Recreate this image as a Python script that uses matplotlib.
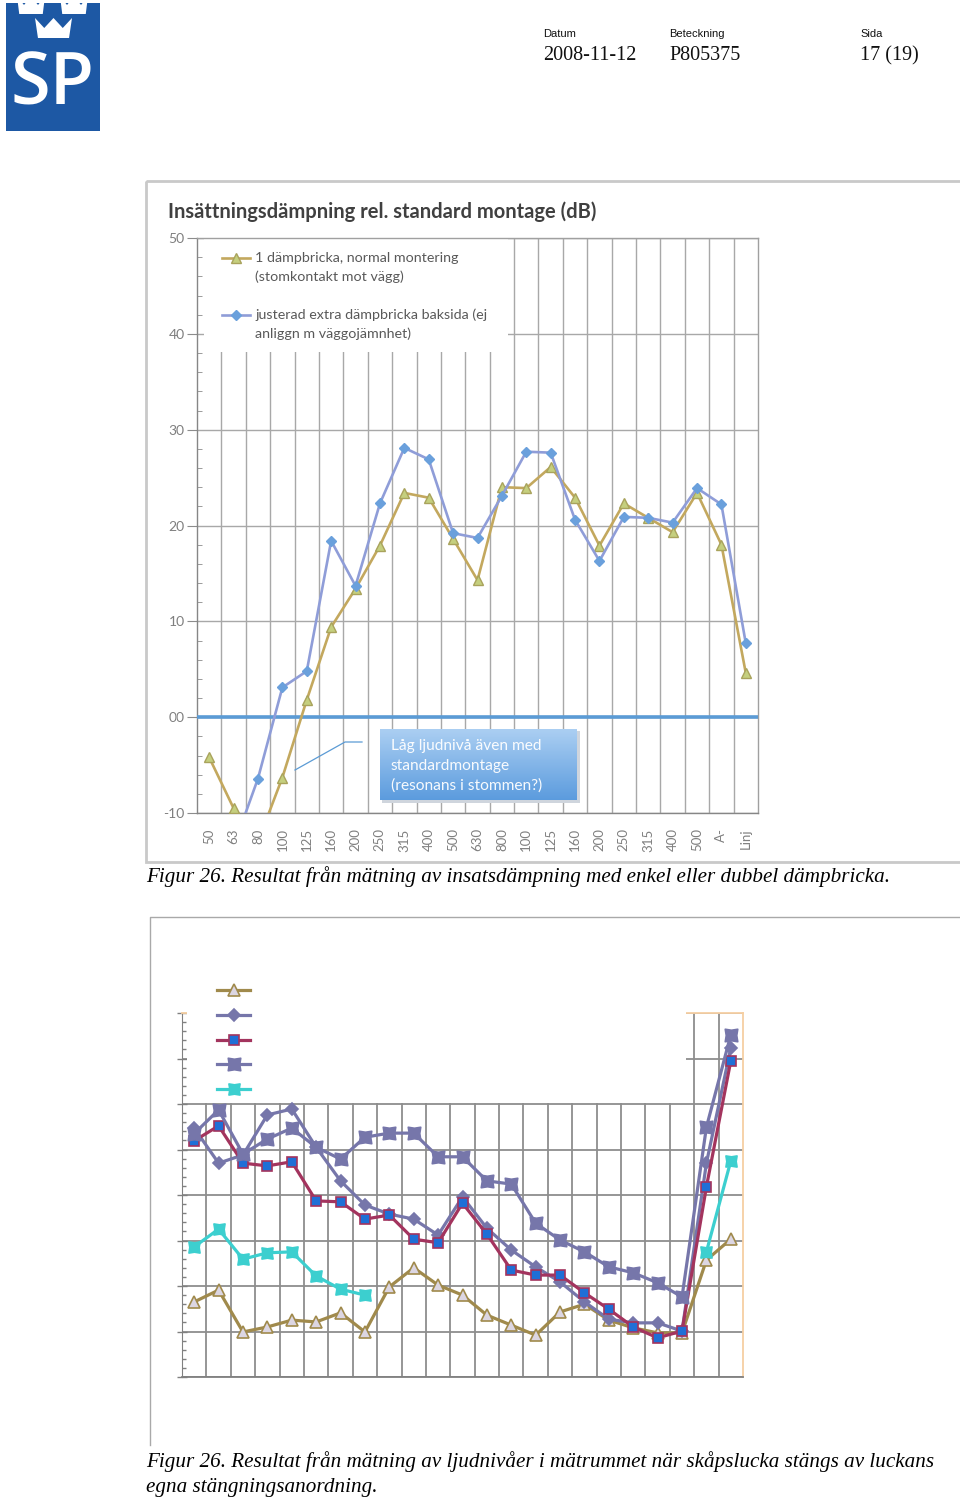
import numpy as np
import matplotlib
matplotlib.use("Agg")
import matplotlib.pyplot as plt
from matplotlib.lines import Line2D
from matplotlib.patches import Rectangle, Polygon
from matplotlib.path import Path
from matplotlib.ticker import MultipleLocator

W, H = 960, 1499

# --- figur 26 (övre): insättningsdämpning, dB ---
band_labels = ["50", "63", "80", "100", "125", "160", "200", "250", "315", "400", "500",
               "630", "800", "100", "125", "160", "200", "250", "315", "400", "500", "A-", "Linj"]
y_ticks = [-10, 0, 10, 20, 30, 40, 50]
y_ticklabels = ["-10", "00", "10", "20", "30", "40", "50"]
one_washer = [-4.2, -9.5, -13.0, -6.3, 1.8, 9.4, 13.4, 17.9, 23.4, 22.9, 18.6, 14.3,
              24.0, 23.9, 26.1, 22.9, 17.9, 22.3, 20.8, 19.3, 23.4, 18.0, 4.6]
extra_washer = [-15.0, -13.5, -6.4, 3.1, 4.8, 18.4, 13.7, 22.3, 28.1, 26.9, 19.2, 18.7,
                23.1, 27.7, 27.6, 20.6, 16.3, 20.9, 20.8, 20.3, 23.9, 22.2, 7.7]
legend1 = [["1 dämpbricka, normal montering", "(stomkontakt mot vägg)"],
           ["justerad extra dämpbricka baksida (ej", "anliggn m väggojämnhet)"]]
callout_lines = ["Låg ljudnivå även med", "standardmontage", "(resonans i stommen?)"]

# --- figur 26 (nedre): ljudnivåer, skala utan siffror ---
s_triangle = [16.5, 19.1, 9.9, 11.0, 12.5, 12.1, 14.1, 9.9, 19.8, 24.0, 20.2, 18.0,
              13.6, 11.4, 9.2, 14.3, 16.0, 12.5, 10.8, 9.7, 9.7, 25.7, 30.3]
s_diamond = [54.7, 47.0, 48.8, 57.6, 58.9, 50.5, 43.1, 37.8, 35.8, 34.7, 31.2, 39.6,
             32.7, 27.9, 24.2, 20.9, 16.5, 12.7, 11.9, 11.9, 10.1, 47.0, 72.3]
s_square = [51.9, 55.2, 47.0, 46.4, 47.3, 38.7, 38.5, 34.7, 35.6, 30.3, 29.5, 38.2,
            31.4, 23.5, 22.4, 22.4, 18.5, 14.9, 11.0, 8.6, 10.1, 41.8, 69.5]
s_star = [53.5, 58.7, 49.0, 52.3, 54.7, 50.5, 47.9, 52.7, 53.6, 53.6, 48.4, 48.4,
          43.1, 42.4, 33.8, 30.1, 27.5, 24.2, 22.9, 20.7, 17.6, 54.9, 75.2]
s_cyan = [28.6, 32.5, 25.9, 27.3, 27.5, 22.2, 19.3, 18.0] + [np.nan] * 13 + [27.5, 47.5]

header_items = [("Datum", "2008-11-12", 543), ("Beteckning", "P805375", 669), ("Sida", "17 (19)", 860)]
caption1 = "Figur 26. Resultat från mätning av insatsdämpning med enkel eller dubbel dämpbricka."
caption2 = ["Figur 26. Resultat från mätning av ljudnivåer i mätrummet när skåpslucka stängs av luckans",
            "egna stängningsanordning."]

CHART_FONT = ["Lato", "DejaVu Sans"]


def fx(x):
    return x / W


def fy(y):
    return 1 - y / H


fig = plt.figure(figsize=(9.6, 14.99), dpi=100)

# ---------------- sidan: logga, sidhuvud, ramar, bildtexter ----------------
page = fig.add_axes([0, 0, 1, 1], zorder=-1)
page.set_xlim(0, W)
page.set_ylim(H, 0)
page.axis("off")

logo = Rectangle((6, 3), 94, 128, fc="#1d58a4", ec="none")
page.add_patch(logo)


def crown(cx, top, w, h):
    pts = [(cx - w / 2, top), (cx - w / 4, top + 0.5 * h), (cx, top),
           (cx + w / 4, top + 0.5 * h), (cx + w / 2, top),
           (cx + w * 0.42, top + h), (cx - w * 0.42, top + h)]
    p = Polygon(pts, closed=True, fc="white", ec="none")
    page.add_patch(p)
    p.set_clip_path(logo)


crown(31, -4, 28, 18)
crown(74, -4, 28, 18)
crown(53.5, 18, 37, 20)
page.text(53, 104, "SP", color="white", fontsize=52, fontweight="semibold",
          family=["Open Sans", "DejaVu Sans"], ha="center", va="baseline")

for small, big, x in header_items:
    page.text(x, 37, small, fontsize=8, family="Liberation Sans", va="baseline", color="#111111")
    page.text(x, 60, big, fontsize=14.5, family="Liberation Serif", va="baseline", color="#111111")

page.add_patch(Rectangle((146, 181), 830, 681, fc="none", ec="#c9c9c9", lw=2))
page.plot([150, 150, 970], [1445, 917, 917], color="#a9a9a9", lw=1)

cap_kw = dict(fontsize=15.2, family="Liberation Serif", style="italic", va="baseline")
page.text(146, 882, caption1, **cap_kw)
page.text(146, 1467, caption2[0], **cap_kw)
page.text(146, 1492, caption2[1], **cap_kw)

page.text(168, 218, "Insättningsdämpning rel. standard montage (dB)", fontsize=14.5,
          fontweight="bold", color="#404040", family=CHART_FONT, va="baseline")

# ---------------- övre diagrammet ----------------
x = np.arange(len(band_labels))
ax1 = fig.add_axes([fx(197), fy(813), fx(561), 575 / H])
ax1.set_xlim(-0.5, len(band_labels) - 0.5)
ax1.set_ylim(-10, 50)
ax1.set_axisbelow(True)

ax1.plot(x, one_washer, color="#c3a85e", lw=1.9, marker="^", ms=6.5,
         mfc="#c5cf7e", mec="#a9a35c", zorder=3)
ax1.plot(x, extra_washer, color="#8f9dd8", lw=1.9, marker="D", ms=4.8,
         mfc="#6aa0dc", mec="#6aa0dc", zorder=4)
ax1.axhline(0, color="#5b9bd5", lw=2.6, zorder=2.8)

ax1.set_xticks(x)
ax1.set_xticklabels(band_labels, rotation=90, color="#7f7f7f", fontsize=9.5, family=CHART_FONT)
ax1.set_xticks(np.arange(0.5, len(band_labels) - 1, 1), minor=True)
ax1.set_yticks(y_ticks)
ax1.set_yticklabels(y_ticklabels, color="#7f7f7f", fontsize=10, family=CHART_FONT)
ax1.yaxis.set_minor_locator(MultipleLocator(2))
ax1.tick_params(axis="x", which="both", length=0, pad=11)
ax1.tick_params(axis="y", which="major", direction="out", length=7, color="#8c8c8c", pad=2)
ax1.tick_params(axis="y", which="minor", direction="in", length=3.5, color="#8c8c8c")
ax1.grid(axis="x", which="minor", color="#a8a8a8", lw=1)
ax1.grid(axis="y", which="major", color="#a8a8a8", lw=1)
for s in ax1.spines.values():
    s.set_color("#a0a0a0")
    s.set_linewidth(1)
ax1.spines["left"].set_color("#868686")
ax1.spines["bottom"].set_color("#868686")

ax1.add_patch(Rectangle((0.012, 0.802), 0.542, 0.197, transform=ax1.transAxes,
                        fc="white", ec="none", zorder=1))

# legend (manuellt placerad som i originalet)
leg_styles = [dict(color="#c3a85e", marker="^", ms=6.5, mfc="#c5cf7e", mec="#a9a35c"),
              dict(color="#8f9dd8", marker="D", ms=4.8, mfc="#6aa0dc", mec="#6aa0dc")]
for (l1, l2), st, yy in zip(legend1, leg_styles, [258, 315]):
    ya = (813 - yy) / 575
    ax1.add_line(Line2D([(222 - 197) / 561, (250 - 197) / 561], [ya, ya], lw=1.9,
                        color=st["color"], transform=ax1.transAxes, zorder=3))
    ax1.add_line(Line2D([(236 - 197) / 561], [ya], ls="none", marker=st["marker"], ms=st["ms"],
                        mfc=st["mfc"], mec=st["mec"], transform=ax1.transAxes, zorder=3))
    ax1.text((255 - 197) / 561, ya, l1, transform=ax1.transAxes, fontsize=10.3,
             color="#595959", family=CHART_FONT, va="center", zorder=3)
    ax1.text((255 - 197) / 561, (813 - yy - 19) / 575, l2, transform=ax1.transAxes, fontsize=10.3,
             color="#595959", family=CHART_FONT, va="center", zorder=3)

# pratbubbla
fig.add_artist(Line2D([fx(295), fx(345), fx(362)], [fy(770), fy(742), fy(742)],
                      color="#5b9bd5", lw=0.9, transform=fig.transFigure))
shadow = fig.add_axes([fx(382), fy(803), fx(198), 72 / H], zorder=4)
shadow.set_facecolor("#d4d8de")
shadow.axis("off")
shadow.add_patch(Rectangle((0, 0), 1, 1, transform=shadow.transAxes, fc="#cfd5dd", ec="none"))
cax = fig.add_axes([fx(380), fy(800), fx(197), 71 / H], zorder=5)
grad = np.linspace(0, 1, 64)[:, None]
top_c = np.array([0.67, 0.81, 0.95])
bot_c = np.array([0.36, 0.61, 0.87])
img = top_c[None, None, :] * (1 - grad[:, :, None]) + bot_c[None, None, :] * grad[:, :, None]
cax.imshow(img, aspect="auto", extent=[0, 1, 0, 1])
cax.set_xlim(0, 1)
cax.set_ylim(0, 1)
cax.axis("off")
for i, line in enumerate(callout_lines):
    cax.text(11 / 197, (800 - 746 - 20 * i) / 71, line, color="white", fontsize=11.2,
             family=CHART_FONT, va="center", ha="left", alpha=0.95)

# ---------------- nedre diagrammet ----------------
ax2 = fig.add_axes([fx(182), fy(1377), fx(561), 364 / H])
ax2.set_xlim(-0.5, len(band_labels) - 0.5)
ax2.set_ylim(0, 80)
ax2.set_axisbelow(True)

star = Path([(-1, -1), (0, -0.84), (1, -1), (0.84, 0), (1, 1), (0, 0.84), (-1, 1), (-0.84, 0), (-1, -1)],
            closed=True)
series2 = [
    (s_triangle, dict(color="#a08a4c", marker="^", ms=9, mfc="#dcd6e2", mec="#a08a4c")),
    (s_diamond, dict(color="#7676aa", marker="D", ms=6.5, mfc="#7676aa", mec="#7676aa")),
    (s_square, dict(color="#a3345e", marker="s", ms=7.5, mfc="#1f6fd6", mec="#a3345e")),
    (s_star, dict(color="#7676aa", marker=star, ms=9, mfc="#7676aa", mec="#7676aa")),
    (s_cyan, dict(color="#3ccfcf", marker=star, ms=8, mfc="#3ccfcf", mec="#3ccfcf")),
]
for vals, st in series2:
    ax2.plot(x, vals, lw=2.3, zorder=3, mew=1.2, **st)

ax2.set_xticks([])
ax2.set_xticks(np.arange(0.5, len(band_labels) - 1, 1), minor=True)
ax2.set_yticks(np.arange(0, 81, 10))
ax2.set_yticklabels([])
ax2.yaxis.set_minor_locator(MultipleLocator(2))
ax2.tick_params(axis="x", which="both", length=0)
ax2.tick_params(axis="y", which="major", direction="inout", length=7, color="#808080", width=1)
ax2.tick_params(axis="y", which="minor", direction="in", length=3, color="#808080", width=1)
ax2.grid(axis="x", which="minor", color="#8e8e8e", lw=1.3)
ax2.grid(axis="y", which="major", color="#8e8e8e", lw=1.3)
ax2.spines["left"].set_color("#808080")
ax2.spines["bottom"].set_color("#808080")
ax2.spines["bottom"].set_linewidth(1.3)
ax2.spines["right"].set_color("#f6cfa2")
ax2.spines["top"].set_color("#f6cfa2")
ax2.spines["right"].set_linewidth(1.3)
ax2.spines["top"].set_linewidth(1.3)
ax2.add_patch(Rectangle((0.009, 0.752), (686 - 182) / 561 - 0.009, 0.27, transform=ax2.transAxes,
                        fc="white", ec="none", zorder=2.7, clip_on=False))

# legendnycklar utan text
for (vals, st), yy in zip(series2, [990, 1015, 1040, 1064, 1089]):
    fig.add_artist(Line2D([fx(217), fx(250)], [fy(yy), fy(yy)], lw=2.3, color=st["color"],
                          transform=fig.transFigure, zorder=4))
    fig.add_artist(Line2D([fx(233.5)], [fy(yy)], ls="none", marker=st["marker"], ms=st["ms"],
                          mfc=st["mfc"], mec=st["mec"], mew=1.2, transform=fig.transFigure, zorder=4))

fig.savefig("out.png", dpi=100)
